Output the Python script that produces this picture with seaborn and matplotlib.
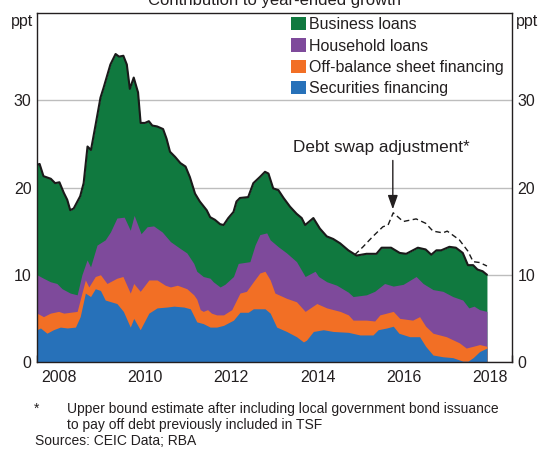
import numpy as np
import pandas as pd
import matplotlib
matplotlib.use("Agg")
import matplotlib.pyplot as plt
from matplotlib.patches import Patch
import seaborn as sns

# --- data (cumulative levels, ppt) ---
# years are decimal years

total_years = [2008.00, 2008.06, 2008.15, 2008.32, 2008.42, 2008.52, 2008.62, 2008.70, 2008.77, 2008.85,
               2009.00, 2009.08, 2009.17, 2009.25, 2009.35, 2009.47, 2009.54, 2009.70, 2009.82, 2009.90,
               2010.00, 2010.08, 2010.15, 2010.24, 2010.34, 2010.40, 2010.50, 2010.59, 2010.67, 2010.78,
               2010.92, 2011.00, 2011.08, 2011.20, 2011.32, 2011.44, 2011.54, 2011.66, 2011.77, 2011.93,
               2012.01, 2012.12, 2012.24, 2012.32, 2012.43, 2012.55, 2012.62, 2012.70, 2012.89, 2013.01,
               2013.16, 2013.28, 2013.36, 2013.47, 2013.59, 2013.71, 2013.86, 2014.01, 2014.13, 2014.21,
               2014.40, 2014.55, 2014.71, 2014.86, 2015.02, 2015.21, 2015.40, 2015.63, 2015.86, 2015.98,
               2016.20, 2016.40, 2016.55, 2016.82, 2017.00, 2017.13, 2017.25, 2017.36, 2017.55, 2017.70,
               2017.86, 2017.98, 2018.10, 2018.20, 2018.32, 2018.42]
total_level = [22.6, 22.7, 21.3, 21.0, 20.5, 20.6, 19.4, 18.6, 17.4, 17.6,
               19.0, 20.5, 24.7, 24.3, 27.0, 30.3, 31.4, 34.1, 35.3, 35.0,
               35.1, 34.1, 31.3, 32.6, 30.9, 27.4, 27.4, 27.6, 27.1, 27.0,
               26.7, 25.6, 24.1, 23.5, 22.8, 22.4, 21.2, 19.3, 18.4, 17.4,
               16.6, 16.3, 15.8, 15.7, 16.5, 17.2, 18.4, 18.8, 18.9, 20.5,
               21.2, 21.8, 21.6, 19.9, 19.7, 18.8, 17.8, 17.0, 16.5, 15.7,
               16.5, 15.3, 14.4, 14.1, 13.6, 12.8, 12.2, 12.4, 12.4, 13.1,
               13.1, 12.5, 12.4, 13.1, 12.9, 12.3, 12.8, 12.8, 13.2, 13.1,
               12.5, 11.1, 11.1, 10.6, 10.4, 10.0]

household_years = [2008.00, 2008.15, 2008.31, 2008.46, 2008.58, 2008.77, 2008.93, 2009.04, 2009.16, 2009.24,
                   2009.39, 2009.58, 2009.70, 2009.85, 2010.02, 2010.16, 2010.25, 2010.41, 2010.55, 2010.70,
                   2010.90, 2011.09, 2011.32, 2011.47, 2011.63, 2011.70, 2011.85, 2012.01, 2012.08, 2012.24,
                   2012.35, 2012.55, 2012.66, 2012.93, 2013.05, 2013.16, 2013.32, 2013.40, 2013.59, 2013.78,
                   2014.01, 2014.21, 2014.44, 2014.52, 2014.71, 2014.94, 2015.21, 2015.32, 2015.63, 2015.82,
                   2016.05, 2016.25, 2016.48, 2016.78, 2016.94, 2017.17, 2017.40, 2017.63, 2017.86, 2018.00,
                   2018.12, 2018.25, 2018.42]
household_top = [10.0, 9.6, 9.2, 9.0, 8.4, 7.9, 7.7, 10.0, 11.7, 10.9,
                 13.4, 14.0, 14.9, 16.5, 16.6, 15.1, 16.8, 14.7, 15.5, 15.6,
                 14.9, 13.8, 13.0, 12.5, 11.3, 10.4, 9.8, 9.6, 9.2, 8.6,
                 8.9, 9.8, 11.3, 11.5, 13.4, 14.6, 14.8, 14.0, 13.2, 12.5,
                 11.5, 9.8, 10.4, 9.8, 9.2, 8.8, 8.0, 7.5, 7.7, 8.1,
                 9.0, 8.7, 8.9, 9.8, 9.0, 8.3, 8.1, 7.5, 7.1, 6.2,
                 6.4, 6.0, 5.8]

offbalance_years = [2008.00, 2008.15, 2008.31, 2008.50, 2008.62, 2008.93, 2009.04, 2009.12, 2009.20, 2009.35,
                    2009.47, 2009.62, 2009.85, 2009.99, 2010.16, 2010.24, 2010.39, 2010.59, 2010.78, 2010.97,
                    2011.09, 2011.25, 2011.47, 2011.63, 2011.70, 2011.78, 2011.85, 2011.95, 2012.04, 2012.16,
                    2012.32, 2012.51, 2012.70, 2012.85, 2013.01, 2013.16, 2013.28, 2013.40, 2013.51, 2013.78,
                    2014.01, 2014.21, 2014.48, 2014.71, 2015.02, 2015.21, 2015.32, 2015.63, 2015.82, 2015.94,
                    2016.25, 2016.40, 2016.70, 2016.86, 2017.00, 2017.17, 2017.48, 2017.78, 2017.94, 2018.10,
                    2018.25, 2018.42]
offbalance_top = [5.6, 5.2, 5.6, 5.8, 5.6, 5.8, 7.9, 9.4, 8.6, 9.8,
                  10.0, 9.0, 9.6, 9.8, 7.9, 9.0, 8.1, 9.4, 9.4, 8.8,
                  8.6, 8.8, 8.4, 7.7, 7.2, 6.0, 5.8, 6.0, 5.6, 5.4,
                  5.4, 6.0, 7.9, 8.1, 9.2, 10.2, 10.4, 9.4, 7.9, 7.3,
                  6.9, 5.8, 6.7, 6.2, 5.8, 5.4, 4.8, 4.8, 4.7, 5.4,
                  5.8, 5.0, 4.8, 5.2, 4.1, 3.3, 2.9, 2.2, 1.6, 1.8,
                  2.0, 1.8]

securities_years = [2008.00, 2008.08, 2008.23, 2008.38, 2008.54, 2008.70, 2008.89, 2009.00, 2009.12, 2009.24,
                    2009.35, 2009.47, 2009.58, 2009.85, 2010.00, 2010.16, 2010.24, 2010.39, 2010.59, 2010.78,
                    2011.01, 2011.17, 2011.40, 2011.55, 2011.70, 2011.85, 2012.01, 2012.16, 2012.32, 2012.55,
                    2012.70, 2012.89, 2013.01, 2013.28, 2013.40, 2013.55, 2013.78, 2014.01, 2014.17, 2014.24,
                    2014.40, 2014.63, 2014.86, 2015.21, 2015.48, 2015.78, 2015.90, 2016.10, 2016.25, 2016.38,
                    2016.63, 2016.86, 2017.00, 2017.17, 2017.40, 2017.63, 2017.86, 2017.98, 2018.10, 2018.25,
                    2018.42]
securities_top = [3.7, 3.9, 3.3, 3.7, 4.0, 3.9, 4.0, 5.2, 7.9, 7.5,
                  8.4, 8.2, 7.1, 6.7, 5.8, 4.0, 5.0, 3.7, 5.6, 6.2,
                  6.3, 6.4, 6.3, 6.1, 4.6, 4.4, 4.0, 4.0, 4.2, 4.8,
                  5.7, 5.7, 6.1, 6.1, 5.6, 4.0, 3.5, 2.9, 2.3, 2.5,
                  3.5, 3.7, 3.5, 3.4, 3.1, 3.1, 3.7, 3.9, 4.1, 3.3,
                  2.9, 2.9, 1.8, 0.8, 0.6, 0.5, 0.1, 0.1, 0.5, 1.2,
                  1.6]

# upper bound including the debt swap adjustment
swap_years = [2015.36, 2015.55, 2015.78, 2016.01, 2016.13, 2016.25, 2016.48, 2016.78, 2017.00, 2017.17,
              2017.40, 2017.50, 2017.78, 2017.98, 2018.10, 2018.25, 2018.42]
swap_level = [12.3, 13.2, 14.4, 15.5, 15.7, 17.1, 16.1, 16.4, 15.9, 15.0,
              14.8, 15.0, 14.0, 12.7, 11.5, 11.4, 11.0]

labels = ["Business loans", "Household loans", "Off-balance sheet financing", "Securities financing"]
colors = ["#10793F", "#7E4A9B", "#F26F25", "#2771B9"]

# --- plot ---
sns.set_theme(style="white")
plt.rcParams["font.family"] = ["Liberation Sans", "DejaVu Sans"]
plt.rcParams["text.color"] = "#231f20"

fig = plt.figure(figsize=(5.42, 4.51), dpi=100)
ax = fig.add_axes([37 / 542, 1 - 362 / 451, 475 / 542, 349 / 451])

layers = [(total_years, total_level), (household_years, household_top),
          (offbalance_years, offbalance_top), (securities_years, securities_top)]
for (xs, ys), c in zip(layers, colors):
    ax.fill_between(xs, 0, ys, color=c, linewidth=0, zorder=2)

line_df = pd.DataFrame({"year": total_years, "level": total_level})
sns.lineplot(data=line_df, x="year", y="level", color="#1a1a1a", linewidth=1.5, ax=ax, zorder=4)
swap_df = pd.DataFrame({"year": swap_years, "level": swap_level})
sns.lineplot(data=swap_df, x="year", y="level", color="#1a1a1a", linewidth=1.0,
             linestyle=(0, (4, 2.5)), ax=ax, zorder=4)

ax.set_xlim(2008, 2019)
ax.set_ylim(0, 40)
ax.set_xlabel("")
ax.set_ylabel("")

# year boundaries as ticks, labels at mid-year
ax.set_xticks(np.arange(2008, 2020))
ax.set_xticklabels([])
ax.set_xticks(np.arange(2008.5, 2019, 2), minor=True)
ax.set_xticklabels([str(y) for y in range(2008, 2019, 2)], minor=True)
ax.tick_params(axis="x", which="major", direction="in", length=5, width=1, color="#231f20", bottom=True)
ax.tick_params(axis="x", which="minor", length=0, pad=6, labelsize=11.5, labelcolor="#231f20", bottom=True)

ax.set_yticks([0, 10, 20, 30])
ax.tick_params(axis="y", length=0, pad=4, labelsize=11.5, labelcolor="#231f20",
               left=True, right=True, labelleft=True, labelright=True)
ax.yaxis.grid(True, color="#bdbdbd", linewidth=1)
ax.set_axisbelow(True)

for sp in ax.spines.values():
    sp.set_visible(True)
    sp.set_color("#231f20")
    sp.set_linewidth(1)

ax.text(-0.008, 0.977, "ppt", transform=ax.transAxes, ha="right", va="center", fontsize=11.5)
ax.text(1.008, 0.977, "ppt", transform=ax.transAxes, ha="left", va="center", fontsize=11.5)

handles = [Patch(facecolor=c, edgecolor="none") for c in colors]
ax.legend(handles, labels, loc="upper left", bbox_to_anchor=(0.535, 0.988), frameon=False,
          fontsize=11.5, handlelength=0.9, handleheight=0.9, handletextpad=0.22,
          labelspacing=0.38, borderpad=0, borderaxespad=0)

ax.text(2015.97, 24.6, "Debt swap adjustment*", ha="center", va="center", fontsize=12.3)
ax.annotate("", xy=(2016.24, 17.5), xytext=(2016.24, 23.1),
            arrowprops=dict(arrowstyle="-|>,head_length=0.7,head_width=0.25", color="#231f20",
                            lw=1, shrinkA=0, shrinkB=0, mutation_scale=12))

fig.text(274.5 / 542, 1 - 5 / 451, "Contribution to year-ended growth", ha="center", va="baseline", fontsize=12)

fig.text(37 / 542, 1 - 409 / 451, "*", ha="center", va="center", fontsize=10)
fig.text(67 / 542, 1 - 402 / 451,
         "Upper bound estimate after including local government bond issuance\nto pay off debt previously included in TSF",
         ha="left", va="top", fontsize=10, linespacing=1.2)
fig.text(35 / 542, 1 - 441 / 451, "Sources: CEIC Data; RBA", ha="left", va="center", fontsize=10)

fig.savefig("out.png", dpi=100)
